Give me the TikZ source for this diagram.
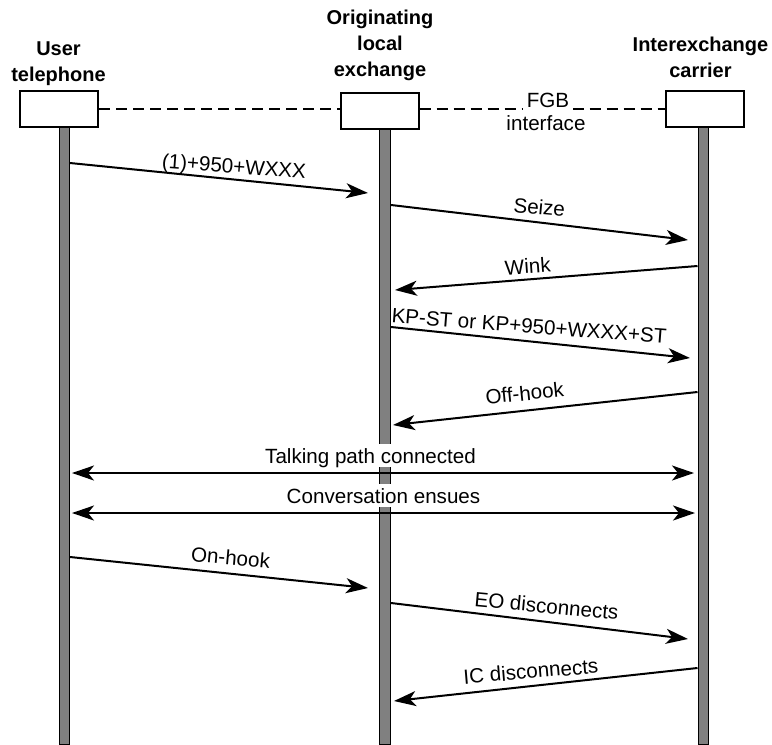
\documentclass[tikz,border=0pt]{standalone}
\usepackage{fontspec}
\setmainfont{Liberation Sans}
\usetikzlibrary{arrows.meta}
\begin{document}
\begin{tikzpicture}[x=1pt,y=-1pt,
  title/.style={font=\bfseries\fontsize{20}{26}\selectfont, align=center,
    anchor=south, inner sep=0pt, text depth=0pt},
  unit/.style={draw, line width=2pt, fill=white, inner sep=0pt,
    minimum width=78pt, minimum height=36pt},
  lifeline/.style={draw=black, line width=1.5pt, fill=black!50},
  iface/.style={line width=2pt, dash pattern=on 11pt off 6pt},
  msg/.style={line width=2pt, -{Stealth[length=22pt,width=15pt,inset=6pt]}},
  both/.style={line width=2pt, {Stealth[length=22pt,width=15pt,inset=6pt]}-{Stealth[length=22pt,width=15pt,inset=6pt]}},
  lbl/.style={font=\fontsize{20.6}{24}\selectfont, inner sep=0pt, anchor=base},
  hlbl/.style={font=\fontsize{20.6}{24}\selectfont, fill=white, inner sep=4pt,
    text depth=0pt, anchor=south},
]
\useasboundingbox (0,0) rectangle (772,745);

% lifelines
\draw[lifeline] (59.7,120) rectangle (69.3,745);
\draw[lifeline] (379.7,120) rectangle (390.3,745);
\draw[lifeline] (698.7,120) rectangle (708.3,745);

% parties
\node[unit] (ubox) at (59,108.5) {};
\node[unit] (mbox) at (379.5,110.5) {};
\node[unit] (rbox) at (704.5,108.5) {};
\node[title] (ut) at (58.5,82) {User\\telephone};
\node[title] (mt) at (380,77) {Originating\\local\\exchange};
\node[title] (rt) at (700.5,78) {Interexchange\\carrier};

% FGB interface
\draw[iface] (ubox.east) -- (ubox.east -| mbox.west);
\draw[iface] (mbox.east |- ubox.east) -- (rbox.west);
\node[font=\fontsize{20.6}{24}\selectfont, fill=white, inner sep=4pt, text depth=0pt, anchor=base] (fgb) at (548,107) {FGB};
\node[lbl] (ifc) at (546,130) {interface};

% message end points
\coordinate (a1) at (70,163);    \coordinate (b1) at (368,193);
\coordinate (a2) at (391,205);   \coordinate (b2) at (688,240);
\coordinate (a3) at (697.5,266); \coordinate (b3) at (395,290);
\coordinate (a4) at (391,327);   \coordinate (b4) at (690,358);
\coordinate (a5) at (697.5,392); \coordinate (b5) at (393,425);
\coordinate (a6) at (72,473);    \coordinate (b6) at (694,473);
\coordinate (a7) at (72,513);    \coordinate (b7) at (695,513);
\coordinate (a8) at (70,557);    \coordinate (b8) at (368,588);
\coordinate (a9) at (391,603);   \coordinate (b9) at (688,639);
\coordinate (a10) at (697.5,668); \coordinate (b10) at (394,701);

% messages
\draw[msg] (a1) -- node[lbl, pos=.547, rotate=-4.2, yshift=6pt] {(1)+950+WXXX} (b1);
\draw[msg] (a2) -- node[lbl, pos=.495, rotate=-5.2, yshift=8pt] {Seize} (b2);
\draw[msg] (a3) -- node[lbl, pos=.558, rotate=4.2, yshift=6pt] {Wink} (b3);
\draw[msg] (a4) -- node[lbl, pos=.458, rotate=-4.4, yshift=8pt] {KP-ST or KP+950+WXXX+ST} (b4);
\draw[msg] (a5) -- node[lbl, pos=.562, rotate=5.8, yshift=10pt] {Off-hook} (b5);
\draw[both] (a6) -- node[hlbl, pos=.48, yshift=5pt] {Talking path connected} (b6);
\draw[both] (a7) -- node[hlbl, pos=.50, yshift=5pt] {Conversation ensues} (b7);
\draw[msg] (a8) -- node[lbl, pos=.534, rotate=-5.1, yshift=9pt] {On-hook} (b8);
\draw[msg] (a9) -- node[lbl, pos=.519, rotate=-5.3, yshift=8.5pt] {EO disconnects} (b9);
\draw[msg] (a10) -- node[lbl, pos=.545, rotate=4.8, yshift=7.5pt] {IC disconnects} (b10);
\end{tikzpicture}
\end{document}
